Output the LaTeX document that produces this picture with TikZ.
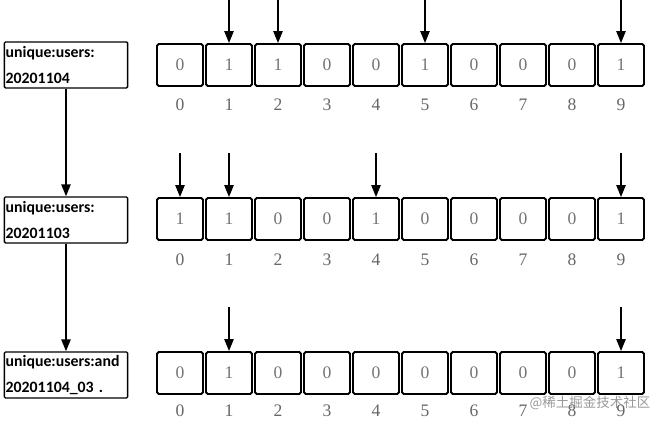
\documentclass[tikz,border=0pt]{standalone}
\usepackage{fontspec}
\setmainfont{Liberation Serif}
\newfontfamily\keyfont{Carlito}
\newfontfamily\cjkfont{Noto Sans CJK SC}
\usetikzlibrary{positioning,arrows.meta,calc}

\tikzset{
  bitcell/.style={draw, line width=1.6pt, rounded corners=1.5pt, minimum width=1.38cm,
    minimum height=1.26cm, inner sep=0pt, text=black!55, font=\fontsize{15}{15}\selectfont},
  idx/.style={inner sep=0pt, text=black!60, font=\fontsize{15}{15}\selectfont},
  keybox/.style={draw, line width=1.2pt, rounded corners=1pt, minimum width=3.69cm,
    minimum height=1.38cm, text width=3.62cm, align=left, inner xsep=0.04cm, inner ysep=1pt,
    font=\keyfont\bfseries\fontsize{13.5}{16}\selectfont},
  hit/.style={-{Triangle[length=3.6mm,width=2.8mm]}, line width=1.3pt},
}

\begin{document}
\begin{tikzpicture}[x=0.03cm, y=0.03cm]
\useasboundingbox (0,0) rectangle (665,424);
% keys
\node[keybox] (k1) at (66,359) {unique:users:\\[6pt]20201104};
\node[keybox] (k2) at (66,204) {unique:users:\\[6pt]20201103};
\node[keybox] (k3) at (66,49) {unique:users:and\\[6pt]20201104\_03 .};
\draw[hit] (k1.south) -- (k2.north);
\draw[hit] (k2.south) -- (k3.north);
% 20201104
\foreach \b [count=\i from 0] in {0,1,1,0,0,1,0,0,0,1} {
  \node[bitcell] (a\i) at (180+49*\i,359) {\b};
  \node[idx] (ai\i) at (180+49*\i,319) {\i};
}
\foreach \i in {1,2,5,9} {
  \coordinate (at\i) at ($(a\i.north)+(0,44)$);
  \draw[hit] (at\i) -- (a\i.north);
}
% 20201103
\foreach \b [count=\i from 0] in {1,1,0,0,1,0,0,0,0,1} {
  \node[bitcell] (b\i) at (180+49*\i,205) {\b};
  \node[idx] (bi\i) at (180+49*\i,164) {\i};
}
\foreach \i in {0,1,4,9} {
  \coordinate (bt\i) at ($(b\i.north)+(0,44)$);
  \draw[hit] (bt\i) -- (b\i.north);
}
% and
\foreach \b [count=\i from 0] in {0,1,0,0,0,0,0,0,0,1} {
  \node[bitcell] (c\i) at (180+49*\i,51) {\b};
  \node[idx] (ci\i) at (180+49*\i,13) {\i};
}
\foreach \i in {1,9} {
  \coordinate (ct\i) at ($(c\i.north)+(0,44)$);
  \draw[hit] (ct\i) -- (c\i.north);
}
\node[text=black!40, font=\cjkfont\fontsize{11.5}{11.5}\selectfont] (wm) at (590,21) {@稀土掘金技术社区};
\end{tikzpicture}
\end{document}
